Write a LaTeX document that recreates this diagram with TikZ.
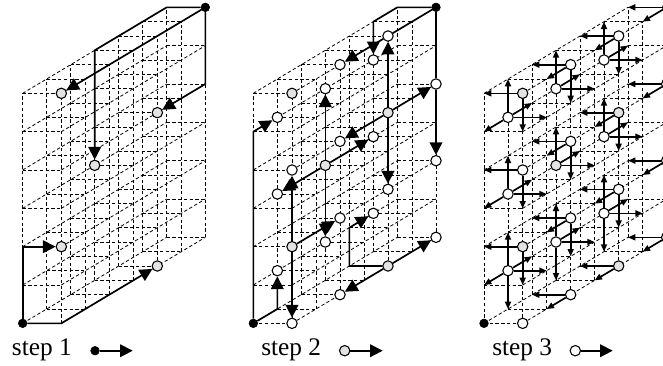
\documentclass[tikz,border=0pt]{standalone}
\usepackage{fontspec}
\setmainfont{Liberation Serif}
\usetikzlibrary{arrows.meta}

\newcommand{\latticegrid}{%
  \foreach \i in {0,1} \foreach \j in {0,...,6} \foreach \k in {0,...,6}
    \coordinate (c\i\j\k) at (\i,\j,\k);
  \foreach \i in {0,1} \foreach \j in {0,...,6} \draw[gridline] (\i,\j,0) -- (\i,\j,6);
  \foreach \i in {0,1} \foreach \k in {0,...,6} \draw[gridline] (\i,0,\k) -- (\i,6,\k);
  \foreach \j in {0,...,6} \foreach \k in {0,...,6} \draw[gridline] (0,\j,\k) -- (1,\j,\k);
}

\begin{document}
\begin{tikzpicture}[
  x=0.75pt, y=-0.75pt,
  font=\fontsize{19}{21}\selectfont,
  panel/.style={x={(29pt,0pt)}, y={(18pt,10.75pt)}, z={(0pt,28.75pt)}},
  gridline/.style={line width=0.6pt, dash pattern=on 2.5pt off 1.8pt},
  arrow/.style={-{Triangle[length=9.5pt,width=9.5pt]}, line width=1.25pt},
  plainline/.style={line width=1.25pt},
  smallarrow/.style={-{Triangle[length=5.5pt,width=4.5pt]}, line width=1.25pt},
  blacknode/.style={circle, draw, fill=black, minimum size=6.5pt, inner sep=0pt},
  graynode/.style={circle, draw, line width=0.8pt, fill=gray!22, minimum size=7.8pt, inner sep=0pt},
  whitenode/.style={circle, draw, line width=0.8pt, fill=white, minimum size=7.8pt, inner sep=0pt},
  steplabel/.style={anchor=base west, inner sep=0pt}
]
\useasboundingbox (0,0) rectangle (663,365);
\clip (0,0) rectangle (663,365);

% step 1
\begin{scope}[shift={(22.67,323.33)}, panel, name prefix=a-]
\latticegrid
\node[blacknode] (n000) at (c000) {};
\node[blacknode] (n166) at (c166) {};
\foreach \a in {102,106,140,144,033}
  \node[graynode] (n\a) at (c\a) {};
\draw[arrow] (n000) -- (c002) -- (n102);
\draw[arrow] (n000) -- (c100) -- (n140);
\draw[arrow] (n166) -- (c066) -- (c036) -- (n033);
\draw[arrow] (n166) -- (n106);
\draw[arrow] (n166) -- (c164) -- (n144);
\end{scope}

% step 2
\begin{scope}[shift={(253.33,323.33)}, panel, name prefix=b-]
\latticegrid
\node[blacknode] (n000) at (c000) {};
\node[blacknode] (n166) at (c166) {};
\foreach \a in {102,106,140,144,033}
  \node[graynode] (n\a) at (c\a) {};
\foreach \a in {015,011,055,051,035,031,053,013,100,104,120,122,124,126,146,142,160,162,164}
  \node[whitenode] (n\a) at (c\a) {};
\draw[arrow] (n000) -- (c005) -- (n015);
\draw[arrow] (n000) -- (c010) -- (n011);
\draw[arrow] (n166) -- (c066) -- (c056) -- (n055);
\draw[plainline] (n166) -- (n146);
\draw[arrow] (n146) -- (n126);
\draw[plainline] (n166) -- (n164);
\draw[arrow] (n164) -- (n162);
\draw[arrow] (n144) -- (n146);
\draw[arrow] (n144) -- (n142);
\draw[arrow] (n144) -- (n164);
\draw[arrow] (n144) -- (n124);
\draw[arrow] (n033) -- (n035);
\draw[arrow] (n033) -- (n031);
\draw[arrow] (n033) -- (n053);
\draw[arrow] (n033) -- (n013);
\draw[arrow] (n102) -- (n104);
\draw[arrow] (n102) -- (n100);
\draw[arrow] (n102) -- (n122);
\draw[arrow] (n140) -- (n160);
\draw[arrow] (n140) -- (n120);
\draw[arrow] (n140) -- (c040) -- (c041) -- (n051);
\end{scope}

% step 3
\begin{scope}[shift={(484,323.33)}, panel, name prefix=d-]
\latticegrid
\node[blacknode] (n000) at (c000) {};
\node[blacknode] (n166) at (c166) {};
\foreach \a in {102,106,140,144,033}
  \node[graynode] (n\a) at (c\a) {};
\foreach \a in {015,013,011,035,031,055,053,051,100,104,120,122,124,126,142,146,160,162,164}
  \node[whitenode] (n\a) at (c\a) {};
\foreach \s/\t in {n106/c006,n106/c105,n104/c004,n104/c103,n102/c002,n102/c101,
  n015/c016,n015/c005,n015/c025,n015/c115,n013/c014,n013/c003,n013/c023,n013/c113,
  n011/c012,n011/c001,n011/c021,n011/c111,n011/c010,
  n126/c026,n126/c116,n126/c125,n124/c024,n124/c114,n124/c123,n122/c022,n122/c112,n122/c121,
  n120/c020,n120/c110,
  n035/c036,n035/c135,n035/c045,n033/c034,n033/c133,n033/c043,
  n031/c032,n031/c131,n031/c041,n031/c030,
  n146/c046,n146/c136,n146/c145,n144/c044,n144/c134,n144/c143,n142/c042,n142/c132,n142/c141,
  n140/c040,n140/c130,
  n055/c056,n055/c155,n055/c065,n053/c054,n053/c153,n053/c063,
  n051/c052,n051/c151,n051/c061,n051/c050,
  n166/c066,n166/c156,n164/c064,n164/c154,n162/c062,n162/c152,n160/c060,n160/c150}
  \draw[smallarrow] (\s) -- (\t);
\end{scope}

% legend
\node[steplabel] (label1) at (11.7,355) {step 1};
\node[blacknode] (leg1) at (95,350.7) {};
\coordinate (end1) at (132.7,350.7);
\draw[arrow] (leg1) -- (end1);
\node[steplabel] (label2) at (261,355) {step 2};
\node[graynode] (leg2) at (344.7,350.7) {};
\coordinate (end2) at (382.7,350.7);
\draw[arrow] (leg2) -- (end2);
\node[steplabel] (label3) at (492,355) {step 3};
\node[whitenode] (leg3) at (575.3,350.7) {};
\coordinate (end3) at (612.7,350.7);
\draw[arrow] (leg3) -- (end3);

\end{tikzpicture}
\end{document}
